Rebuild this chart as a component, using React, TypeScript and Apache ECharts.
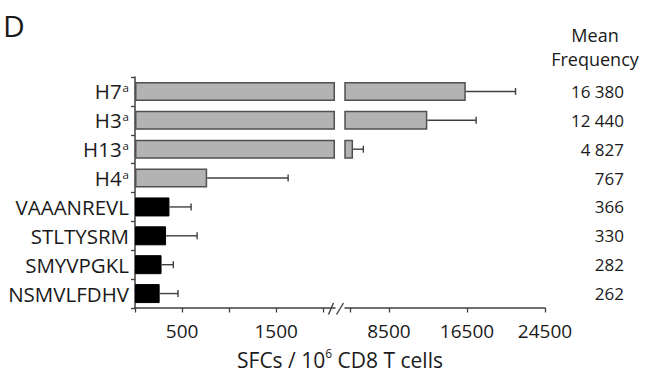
import React, { useEffect, useRef } from "react";
import * as echarts from "echarts";

// ---- data ----
const CATEGORIES = ["H7", "H3", "H13", "H4", "VAAANREVL", "STLTYSRM", "SMYVPGKL", "NSMVLFDHV"];
const SUPERSCRIPTS = ["a", "a", "a", "a", "", "", "", ""];
const IS_POOL = [true, true, true, true, false, false, false, false];
const MEANS = [16380, 12440, 4827, 767, 366, 330, 282, 262];
const ERRORS = [5100, 5000, 1050, 860, 230, 330, 125, 195];

const LEFT_MAX = 2125;
const RIGHT_MIN = 4000;
const RIGHT_MAX = 24500;
const LEFT_TICKS = [0, 500, 1000, 1500, 2000];
const LEFT_LABELS = [500, 1500];
const RIGHT_TICKS = [4500, 8500, 16500, 24500];
const RIGHT_LABELS = [8500, 16500, 24500];

const FONT = "'Open Sans', 'Noto Sans', sans-serif";
const TEXT = "#1a1a1a";
const AXIS = "#404040";
const GRAY = "#b3b3b3";
const GRAY_BORDER = "#505050";

function formatMean(v: number): string {
  if (v >= 1000) {
    return `${Math.floor(v / 1000)} ${String(v % 1000).padStart(3, "0")}`;
  }
  return String(v);
}

export default function App() {
  const ref = useRef<HTMLDivElement>(null);

  useEffect(() => {
    if (!ref.current) return;
    const chart = echarts.init(ref.current, undefined, { renderer: "svg" });

    const barItem = (v: number | string, i: number) =>
      v === "-"
        ? "-"
        : {
            value: v,
            itemStyle: IS_POOL[i]
              ? { color: GRAY, borderColor: GRAY_BORDER, borderWidth: 1.5 }
              : { color: "#000", borderColor: "#000", borderWidth: 1 },
          };

    const leftBars = MEANS.map((v, i) => barItem(Math.min(v, LEFT_MAX), i));
    const rightBars = MEANS.map((v, i) => barItem(v > RIGHT_MIN ? v : "-", i));

    const leftErr: number[][] = [];
    const rightErr: number[][] = [];
    MEANS.forEach((v, i) => {
      if (v <= LEFT_MAX) leftErr.push([v, i, ERRORS[i]]);
      else rightErr.push([v, i, ERRORS[i]]);
    });

    const errRender = (params: any, api: any) => {
      const v = api.value(0);
      const c = api.value(1);
      const e = api.value(2);
      const p0 = api.coord([v, c]);
      const p1 = api.coord([v + e, c]);
      const st = { stroke: AXIS, lineWidth: 1.4 };
      return {
        type: "group",
        children: [
          { type: "line", shape: { x1: p0[0], y1: p0[1], x2: p1[0], y2: p1[1] }, style: st },
          { type: "line", shape: { x1: p1[0], y1: p1[1] - 3.5, x2: p1[0], y2: p1[1] + 3.5 }, style: st },
        ],
      };
    };

    const xAxisCommon = {
      type: "value",
      splitLine: { show: false },
      axisLine: { show: true, onZero: false, lineStyle: { color: AXIS, width: 1.5 } },
      axisLabel: {
        color: TEXT,
        fontSize: 19,
        fontFamily: FONT,
        margin: 13,
        formatter: (v: number) => String(v),
      },
    };

    const option: any = {
      animation: false,
      title: {
        text: "D",
        left: 3,
        top: 10,
        padding: 0,
        textStyle: { fontSize: 30, fontWeight: "normal", color: TEXT, fontFamily: FONT },
      },
      grid: [
        { left: 135, top: 77, width: 200, height: 231 },
        { left: 345, top: 77, width: 200, height: 231 },
      ],
      xAxis: [
        {
          ...xAxisCommon,
          gridIndex: 0,
          min: 0,
          max: LEFT_MAX,
          axisTick: { show: true, customValues: LEFT_TICKS, length: 4.5, lineStyle: { color: AXIS, width: 1.3 } },
          axisLabel: { ...xAxisCommon.axisLabel, customValues: LEFT_LABELS },
        },
        {
          ...xAxisCommon,
          gridIndex: 1,
          min: RIGHT_MIN,
          max: RIGHT_MAX,
          axisTick: { show: true, customValues: RIGHT_TICKS, length: 4.5, lineStyle: { color: AXIS, width: 1.3 } },
          axisLabel: { ...xAxisCommon.axisLabel, customValues: RIGHT_LABELS },
        },
      ],
      yAxis: [
        {
          type: "category",
          gridIndex: 0,
          data: CATEGORIES,
          inverse: true,
          axisLine: { show: true, onZero: false, lineStyle: { color: AXIS, width: 1.5 } },
          axisTick: { show: true, length: 4, lineStyle: { color: AXIS, width: 1.3 } },
          axisLabel: {
            margin: 6,
            color: TEXT,
            formatter: (val: string, idx: number) =>
              SUPERSCRIPTS[idx] ? `{m|${val}}{s|${SUPERSCRIPTS[idx]}}` : `{m|${val}}`,
            rich: {
              m: { fontSize: 20.5, fontFamily: FONT, color: TEXT, lineHeight: 24 },
              s: { fontSize: 11.5, fontFamily: FONT, color: TEXT, lineHeight: 14, padding: [0, 0, 7, 1] },
            },
          },
        },
        {
          type: "category",
          gridIndex: 1,
          data: CATEGORIES,
          inverse: true,
          show: false,
        },
        {
          type: "category",
          gridIndex: 1,
          data: MEANS.map(formatMean),
          inverse: true,
          position: "right",
          axisLine: { show: false, onZero: false },
          axisTick: { show: false },
          axisLabel: { align: "right", margin: 79, fontSize: 17, fontFamily: FONT, color: TEXT },
        },
      ],
      series: [
        { type: "bar", xAxisIndex: 0, yAxisIndex: 0, data: leftBars, barWidth: 19, clip: true },
        { type: "bar", xAxisIndex: 1, yAxisIndex: 1, data: rightBars, barWidth: 19, clip: true },
        {
          type: "custom",
          xAxisIndex: 0,
          yAxisIndex: 0,
          data: leftErr,
          encode: { x: 0, y: 1 },
          renderItem: errRender,
          z: 3,
        },
        {
          type: "custom",
          xAxisIndex: 1,
          yAxisIndex: 1,
          data: rightErr,
          encode: { x: 0, y: 1 },
          renderItem: errRender,
          z: 3,
        },
      ],
      graphic: [
        {
          type: "text",
          x: 595,
          y: 23,
          style: {
            text: "Mean\nFrequency",
            align: "center",
            verticalAlign: "top",
            fontSize: 18,
            lineHeight: 24,
            fontFamily: FONT,
            fill: TEXT,
          },
        },
        {
          type: "text",
          x: 340,
          y: 347,
          style: {
            text: "{m|SFCs / 10}{s|6}{m| CD8 T cells}",
            align: "center",
            verticalAlign: "top",
            rich: {
              m: { fontSize: 21, fontFamily: FONT, fill: TEXT, lineHeight: 26 },
              s: { fontSize: 12, fontFamily: FONT, fill: TEXT, lineHeight: 16, verticalAlign: "top" },
            },
          },
        },
        {
          type: "line",
          shape: { x1: 328.5, y1: 314.5, x2: 333.5, y2: 303 },
          style: { stroke: AXIS, lineWidth: 1.4 },
        },
        {
          type: "line",
          shape: { x1: 336.5, y1: 314.5, x2: 343.5, y2: 303 },
          style: { stroke: AXIS, lineWidth: 1.4 },
        },
      ],
    };

    chart.setOption(option);
    return () => chart.dispose();
  }, []);

  return (
    <div
      ref={ref}
      style={{ position: "fixed", left: 0, top: 0, width: 645, height: 382, background: "#fff" }}
    />
  );
}
